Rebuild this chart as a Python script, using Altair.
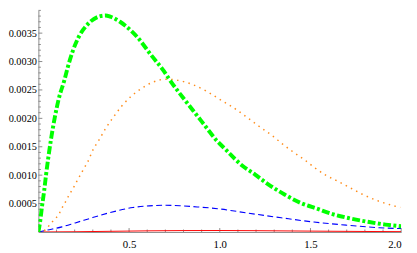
import altair as alt
import pandas as pd

# ---- data ----
green_x = [0, 0.009, 0.02, 0.032, 0.042, 0.056, 0.072, 0.09, 0.112, 0.144, 0.162, 0.189, 0.225,
           0.27, 0.342, 0.37, 0.396, 0.45, 0.512, 0.548, 0.62, 0.692, 0.719, 0.818, 0.872, 0.926,
           0.98, 1.033, 1.123, 1.195, 1.267, 1.357, 1.447, 1.536, 1.626, 1.717, 1.824, 1.914, 2.0]
green_y = [0, 0.00017, 0.00045, 0.00073, 0.001, 0.00134, 0.00168, 0.00201, 0.00234, 0.00268, 0.0029,
           0.00318, 0.00345, 0.00365, 0.0038, 0.00381, 0.00379, 0.0037, 0.00354, 0.00342, 0.00312,
           0.00283, 0.0027, 0.00228, 0.00206, 0.00184, 0.00162, 0.00145, 0.00117, 0.00101, 0.00084,
           0.00066, 0.00051, 0.00041, 0.00031, 0.00024, 0.000175, 0.00013, 0.0001]

orange_x = [0, 0.038, 0.063, 0.088, 0.113, 0.128, 0.146, 0.164, 0.182, 0.2, 0.218, 0.236, 0.253,
            0.27, 0.3, 0.336, 0.372, 0.413, 0.458, 0.509, 0.57, 0.634, 0.7, 0.75, 0.854, 0.926,
            0.997, 1.07, 1.141, 1.225, 1.288, 1.345, 1.404, 1.467, 1.524, 1.584, 1.646,
            1.717, 1.789, 1.879, 1.995]
orange_y = [0, 0.000035, 0.00013, 0.00022, 0.00031, 0.00041, 0.00051, 0.00062, 0.00072, 0.00082,
            0.00093, 0.00103, 0.00113, 0.00122, 0.00144, 0.00163, 0.00183, 0.00202, 0.00221, 0.00238,
            0.00253, 0.00264, 0.00269, 0.00268, 0.00259, 0.00248, 0.00234, 0.0022, 0.00204,
            0.00184, 0.0017, 0.00155, 0.00141, 0.00127, 0.00113, 0.001, 0.0009, 0.00078, 0.00066,
            0.00054, 0.00043]

blue_x = [0, 0.06, 0.13, 0.203, 0.275, 0.347, 0.431, 0.521, 0.611, 0.701, 0.79, 0.88, 0.988,
          1.159, 1.339, 1.519, 1.699, 1.879, 2.0]
blue_y = [0, 0.00004, 0.00009, 0.00016, 0.00023, 0.0003, 0.00037, 0.00043, 0.00046, 0.00047,
          0.00046, 0.00044, 0.00041, 0.00033, 0.00025, 0.000175, 0.00012, 0.000075, 0.00006]

red_x = [0, 0.2, 0.4, 0.6, 0.8, 1.0, 1.2, 1.4, 1.6, 1.8, 2.0]
red_y = [0, 0.000004, 0.000012, 0.00002, 0.000025, 0.000026, 0.000023, 0.000018, 0.000013,
         0.000009, 0.000006]

x_labels = [0.5, 1.0, 1.5, 2.0]
y_labels = [0.0005, 0.001, 0.0015, 0.002, 0.0025, 0.003, 0.0035]
x_minor = [0.1, 0.2, 0.3, 0.4, 0.6, 0.7, 0.8, 0.9, 1.1, 1.2, 1.3, 1.4, 1.6, 1.7, 1.8, 1.9]
y_minor = [round(i * 0.0001, 4) for i in range(1, 40) if i % 5 != 0]

W, H = 370, 226
AXIS = "#8a8a8a"
FONT = "Liberation Serif"

xs = alt.Scale(domain=[0, 2], nice=False, zero=False)
ys = alt.Scale(domain=[0, 0.0039], nice=False)

x_axis = alt.Axis(values=x_labels, format=".1f", title=None, grid=False, ticks=False,
                  tickSize=0, domainColor=AXIS, domainWidth=1, labelFont=FONT,
                  labelFontSize=11, labelColor="#000000", labelPadding=7,
                  labelBaseline="top")
y_axis = alt.Axis(values=y_labels, format=".4f", title=None, grid=False, ticks=False,
                  tickSize=0, domainColor=AXIS, domainWidth=1, labelFont=FONT,
                  labelFontSize=10.5, labelColor="#000000", labelPadding=2)


def X(field):
    return alt.X(field, scale=xs, axis=x_axis)


def Y(field):
    return alt.Y(field, scale=ys, axis=y_axis)


def curve(xv, yv, color, width, dash=None):
    df = pd.DataFrame({"x": xv, "y": yv})
    kw = dict(color=color, strokeWidth=width, interpolate="monotone", clip=True)
    if dash:
        kw["strokeDash"] = dash
        kw["strokeCap"] = "butt"
    return alt.Chart(df).mark_line(**kw).encode(x=X("x:Q"), y=Y("y:Q"))


# inward ticks
ymaj = alt.Chart(pd.DataFrame({"v": y_labels})).mark_rule(color=AXIS, strokeWidth=1).encode(
    y=Y("v:Q"), x=alt.value(0), x2=alt.value(4))
ymin = alt.Chart(pd.DataFrame({"v": y_minor})).mark_rule(color=AXIS, strokeWidth=1).encode(
    y=Y("v:Q"), x=alt.value(0), x2=alt.value(2.5))
xmaj = alt.Chart(pd.DataFrame({"v": x_labels})).mark_rule(color=AXIS, strokeWidth=1).encode(
    x=X("v:Q"), y=alt.value(H), y2=alt.value(H - 4))
xmin = alt.Chart(pd.DataFrame({"v": x_minor})).mark_rule(color=AXIS, strokeWidth=1).encode(
    x=X("v:Q"), y=alt.value(H), y2=alt.value(H - 2.5))

red = curve(red_x, red_y, "#ff0000", 1)
blue = curve(blue_x, blue_y, "#0000ff", 1.1, [6, 3.5])
orange = curve(orange_x, orange_y, "#ff8c1a", 1.5, [1.5, 4.5])
green = curve(green_x, green_y, "#00ff00", 4, [8, 2.5, 3, 2.5])

chart = alt.layer(ymin, ymaj, xmin, xmaj, red, blue, orange, green).properties(
    width=W, height=H,
    autosize=alt.AutoSizeParams(type="none"),
    padding={"left": 31, "top": 0, "right": 8, "bottom": 20},
    background="white",
).configure_view(stroke=None)

chart.save("out.html", embed_options={"renderer": "svg", "actions": False})
